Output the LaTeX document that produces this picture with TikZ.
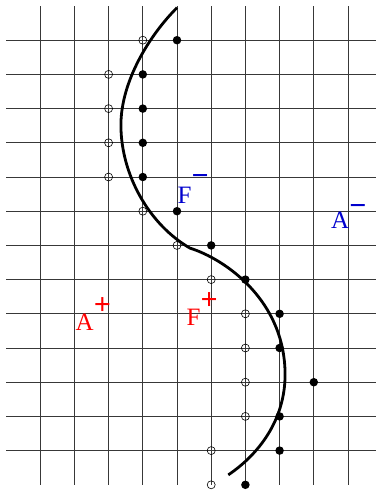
\documentclass[tikz,border=0pt]{standalone}
\usepackage{fontspec}
\setmainfont{Liberation Serif}
\definecolor{lblue}{RGB}{0,0,205}
\definecolor{lred}{RGB}{255,0,0}
\newcommand{\supsign}[2]{\raisebox{#1}{\fontsize{30}{30}\selectfont\bfseries #2}}
\tikzset{
  gridline/.style={draw=black!78, line width=0.9pt},
  filleddot/.style={circle, fill=black, inner sep=0pt, minimum size=8.5pt},
  opendot/.style={circle, draw=black, line width=0.6pt, inner sep=0pt, minimum size=8pt},
  curve/.style={draw=black, line width=2.8pt},
  lbl/.style={inner sep=0pt, anchor=base west, font=\fontsize{25}{28}\selectfont}
}
\begin{document}
\begin{tikzpicture}[x=1pt,y=-1pt]
\useasboundingbox (0,0) rectangle (376,491);
\begin{scope}[xshift=6pt,yshift=-6pt,x=34.2pt,y=-34.2pt]
  \foreach \i in {1,...,10} \draw[gridline] (\i,0) -- (\i,14);
  \foreach \j in {1,...,13} \draw[gridline] (0,\j) -- (10.82,\j);
  \foreach \p [count=\k] in {(4,1),(3,2),(3,3),(3,4),(3,5),(4,6),(5,7),(6,8),(7,9),(7,10),(7,11),(7,12),(6,13),(6,14)}
    \node[opendot] (o\k) at \p {};
  % curve
  \draw[curve] (5,0.05) .. controls (4.2,0.85) and (3.36,2.2) .. (3.36,3.48)
     .. controls (3.36,4.95) and (4.2,6.4) .. (5.38,7.08)
     .. controls (6.4,7.4) and (8.16,8.6) .. (8.16,10.78)
     .. controls (8.16,12.1) and (7.4,13.1) .. (6.5,13.71);
  \foreach \p [count=\k] in {(5,1),(4,2),(4,3),(4,4),(4,5),(5,6),(6,7),(7,8),(8,9),(8,10),(9,11),(8,12),(8,13),(7,14)}
    \node[filleddot] (f\k) at \p {};
\end{scope}
\node[lbl, text=lblue] (fm) at (177.5,203) {F\supsign{17.5pt}{−}};
\node[lbl, text=lblue] (am) at (331,228) {A\supsign{12.5pt}{−}};
\node[lbl, text=lred] (ap) at (75.5,330) {A\supsign{15.5pt}{+}};
\node[lbl, text=lred] (fp) at (186.5,325.5) {F\supsign{16.5pt}{+}};
\end{tikzpicture}
\end{document}
